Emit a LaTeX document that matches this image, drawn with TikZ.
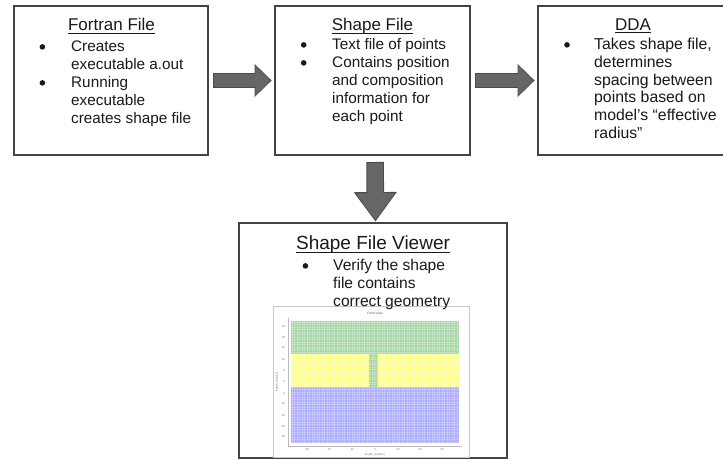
\documentclass[tikz,border=0pt]{standalone}
\usepackage{fontspec}
\setmainfont{Liberation Sans}
\usetikzlibrary{arrows.meta,calc}
\definecolor{boxline}{HTML}{434343}
\definecolor{arrfill}{HTML}{666666}
\definecolor{arredge}{HTML}{4A4A4A}
\definecolor{txt}{HTML}{1A1A1A}
\definecolor{plotgreen}{HTML}{A6D6A6}
\definecolor{plotyellow}{HTML}{FFFF8C}
\definecolor{plotblue}{HTML}{ABABFF}
\definecolor{plotaxis}{HTML}{BBBBBB}
\newcommand\bdot{\tikz[baseline=0pt]{\useasboundingbox (0pt,0pt) rectangle (5.6pt,1pt); \fill[txt] (2.8pt,4.6pt) circle (2.8pt);}}
\tikzset{
  box/.style={draw=boxline, line width=2.5pt, rectangle, inner sep=0pt, outer sep=0pt, anchor=north west},
  ttl/.style={inner sep=0pt, anchor=base, text=txt, font=\fontsize{17}{20}\selectfont},
  body/.style={inner sep=0pt, anchor=base west, text=txt},
  uline/.style={line width=1.2pt, draw=txt},
  hedge/.style={line width=14.6pt, draw=arredge, -{Triangle[length=17pt 0 0, width=32pt 0 0]}},
  hfill/.style={line width=12.6pt, draw=arrfill, -{Triangle[length=14.6pt 0 0, width=28.6pt 0 0]}},
  vedge/.style={line width=17.6pt, draw=arredge, -{Triangle[length=29.5pt 0 0, width=41pt 0 0]}},
  vfill/.style={line width=15.6pt, draw=arrfill, -{Triangle[length=26.8pt 0 0, width=37.4pt 0 0]}},
  tick/.style={inner sep=0pt, text=black!55, font=\fontsize{2.8}{3}\selectfont},
}
\begin{document}
\begin{tikzpicture}[x=1pt,y=-1pt]
\useasboundingbox (0,0) rectangle (723,460);
\clip (0,0) rectangle (723,460);
\fill[white] (0,0) rectangle (723,460);

% boxes
\node[box, minimum width=194pt, minimum height=149pt] (b1) at (14,6) {};
\node[box, minimum width=195pt, minimum height=149pt] (b2) at (275,6) {};
\node[box, minimum width=190pt, minimum height=149pt] (b3) at (538,6) {};
\node[box, minimum width=268pt, minimum height=235pt] (b4) at (239,223) {};

% embedded plot picture
\draw[fill=white, draw=black!22, line width=0.6pt] (273,306) rectangle (469,457);
\node[tick, text=black!70, font=\fontsize{3.2}{4}\selectfont] (ptitle) at (375,313.5) {Front View};
\fill[plotgreen] (291,321) rectangle (459,354);
\fill[plotyellow] (291,354) rectangle (459,387);
\fill[plotgreen] (369,354) rectangle (378,387);
\fill[plotblue] (291,387) rectangle (459,443);
\foreach \x in {292,294.5,...,459}{
  \draw[white, opacity=0.25, line width=0.5pt] (\x,321) -- (\x,443);
}
\foreach \y in {322,324.5,...,443}{
  \draw[white, opacity=0.25, line width=0.5pt] (291,\y) -- (459,\y);
}
\draw[plotaxis, line width=0.4pt] (288,318) -- (288,446) -- (462,446);
\foreach \y/\v [count=\i] in {327/25,338/20,348/15,360/10,371/5,382/0,394/-5,404/-10,416/-15,427/-20,437/-25}{
  \node[tick, anchor=east] (yt\i) at (285.5,\y) {\v};
}
\foreach \x/\v [count=\i] in {307/-30,329/-20,352/-10,375/0,398/10,420/20,442/30}{
  \node[tick] (xt\i) at (\x,450) {\v};
}
\node[tick, rotate=90] (ylab) at (277,382) {length\_z(lattice)};
\node[tick] (xlab) at (375,454.5) {length\_x(lattice)};

% titles
\node[ttl] (t1) at (111.5,31) {Fortran File};
\node[ttl] (t2) at (372.5,31) {Shape File};
\node[ttl] (t3) at (633,30.5) {DDA};
\node[ttl, font=\fontsize{19}{22}\selectfont] (t4) at (373,249.5) {Shape File Viewer};
\foreach \t in {t1,t2,t3}{
  \draw[uline] ([yshift=-2.4pt]\t.base west) -- ([yshift=-2.4pt]\t.base east);
}
\draw[uline] ([yshift=-2.6pt]t4.base west) -- ([yshift=-2.6pt]t4.base east);

% body text
\node[body, font=\fontsize{15.3}{18}\selectfont] (x1) at (39.4,51.5) {\begin{tabular}[t]{@{}p{31.6pt}@{}l@{}}
\bdot & Creates\\
 & executable a.out\\
\bdot & Running\\
 & executable\\
 & creates shape file
\end{tabular}};
\node[body, font=\fontsize{15.3}{18}\selectfont] (x2) at (300.7,49.5) {\begin{tabular}[t]{@{}p{31.3pt}@{}l@{}}
\bdot & Text file of points\\
\bdot & Contains position\\
 & and composition\\
 & information for\\
 & each point
\end{tabular}};
\node[body, font=\fontsize{15.8}{17.8}\selectfont] (x3) at (564,49.5) {\begin{tabular}[t]{@{}p{30pt}@{}l@{}}
\bdot & Takes shape file,\\
 & determines\\
 & spacing between\\
 & points based on\\
 & model’s “effective\\
 & radius”
\end{tabular}};
\node[body, font=\fontsize{15.6}{18.2}\selectfont] (x4) at (302.4,270.5) {\begin{tabular}[t]{@{}p{30.6pt}@{}l@{}}
\bdot & Verify the shape\\
 & file contains\\
 & correct geometry
\end{tabular}};

% block arrows
\draw[hedge, shorten <=5pt, shorten >=3.4pt] (b1.east) -- (b2.west);
\draw[hfill, shorten <=6pt, shorten >=5pt] (b1.east) -- (b2.west);
\draw[hedge, shorten <=5pt, shorten >=3.4pt] (b2.east) -- (b3.west);
\draw[hfill, shorten <=6pt, shorten >=5pt] (b2.east) -- (b3.west);
\draw[vedge, shorten <=7pt, shorten >=1.4pt] ([xshift=2.5pt]b2.south) -- ([xshift=2.5pt]b4.north);
\draw[vfill, shorten <=8pt, shorten >=3pt] ([xshift=2.5pt]b2.south) -- ([xshift=2.5pt]b4.north);
\end{tikzpicture}
\end{document}
